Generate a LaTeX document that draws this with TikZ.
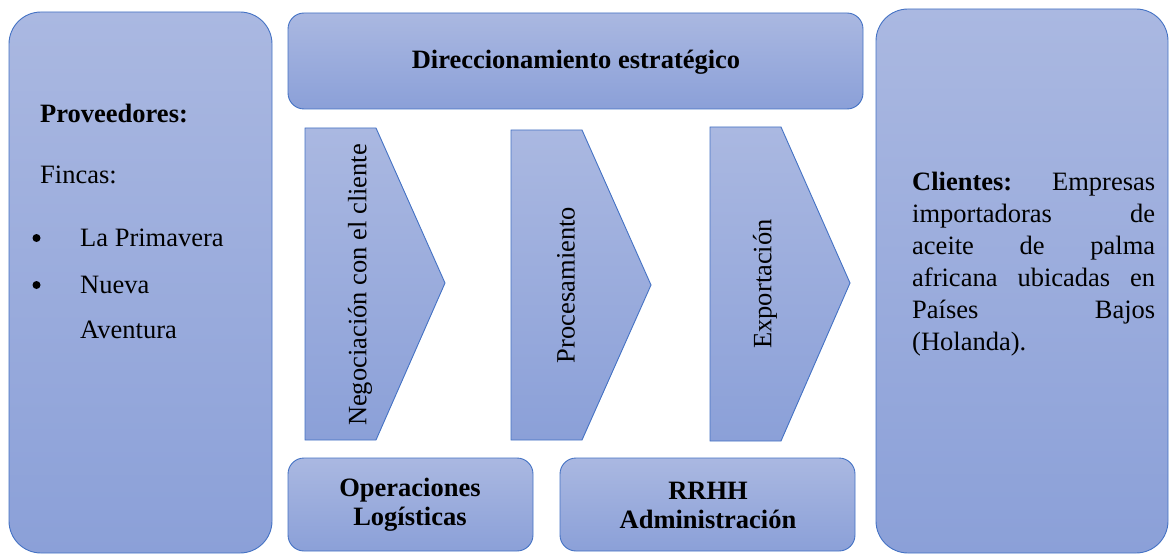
\documentclass[tikz,border=0pt]{standalone}
\usepackage{fontspec}
\setmainfont{Liberation Serif}
\definecolor{boxtop}{RGB}{170,184,225}
\definecolor{boxbot}{RGB}{139,160,216}
\definecolor{boxline}{RGB}{68,114,196}
\begin{document}
\begin{tikzpicture}[x=1pt,y=-1pt,
  panel/.style={draw=boxline, line width=0.9pt, top color=boxtop, bottom color=boxbot},
  txt/.style={font=\fontsize{26.5}{32}\selectfont, inner sep=0pt},
  btxt/.style={font=\fontsize{26.5}{29}\selectfont\bfseries, inner sep=0pt, align=center},
  vtxt/.style={font=\fontsize{26.5}{32}\selectfont, inner sep=0pt, rotate=90},
  dot/.style={circle, fill=black, inner sep=0pt, minimum size=8pt}]
\useasboundingbox (0,0) rectangle (1175,556);
% big side panels
\path[panel, rounded corners=32pt] (9,12) rectangle (272,553);
\path[panel, rounded corners=32pt] (876,9) rectangle (1168,553);
% top and bottom boxes
\path[panel, rounded corners=16pt] (288,13) rectangle (863,109);
\path[panel, rounded corners=16pt] (288,458) rectangle (533,551);
\path[panel, rounded corners=16pt] (560,458) rectangle (855,551);
% chevrons
\path[panel] (305,128) -- (376,128) -- (445,283) -- (376,440) -- (305,440) -- cycle;
\path[panel] (511,130) -- (582,130) -- (651,285) -- (582,440) -- (511,440) -- cycle;
\path[panel] (710,127) -- (781,127) -- (850,283) -- (781,441) -- (710,441) -- cycle;
% texts
\node[btxt] (dir) at (576,62) {Direccionamiento estratégico};
\node[btxt] (ops) at (410,505) {Operaciones\\Logísticas};
\node[btxt] (rrhh) at (708,505) {RRHH\\Administración};
\node[vtxt] (neg) at (360,285) {Negociación con el cliente};
\node[vtxt] (proc) at (566,285) {Procesamiento};
\node[vtxt] (exp) at (765,284) {Exportación};
\node[txt, anchor=west, font=\fontsize{26.5}{32}\selectfont\bfseries] (prov) at (40,113) {Proveedores:};
\node[txt, anchor=west] (fin) at (40,175) {Fincas:};
\node[dot] (b1) at (36.5,238) {};
\node[dot] (b2) at (36.5,285) {};
\node[txt, anchor=west] (lp) at (80,238) {La Primavera};
\node[txt, anchor=west] (nv) at (80,285) {Nueva};
\node[txt, anchor=west] (av) at (80,330) {Aventura};
\node[txt, anchor=north west, text width=243pt, align=left] (cli) at (912,172)
 {\textbf{Clientes:}\hfill Empresas\\
  importadoras\hfill de\\
  aceite\hfill de\hfill palma\\
  africana\hfill ubicadas\hfill en\\
  Países\hfill Bajos\\
  (Holanda).};
\end{tikzpicture}
\end{document}
